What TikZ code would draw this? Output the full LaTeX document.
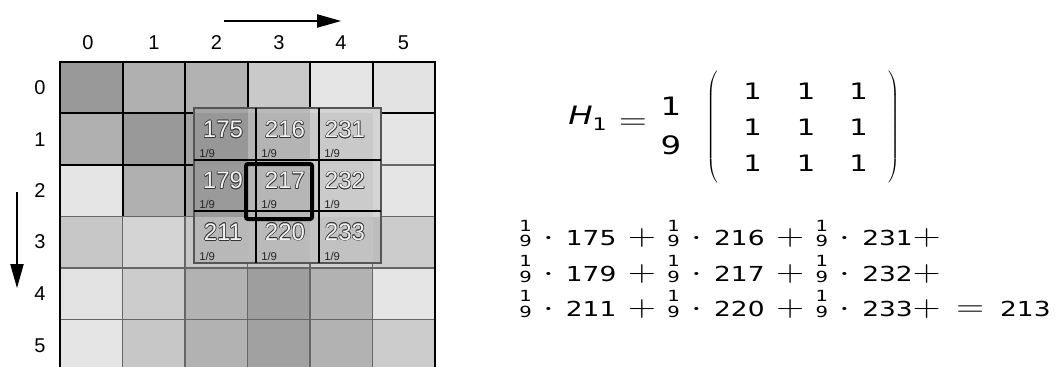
\RequirePackage{fix-cm}
\documentclass[tikz,border=0pt]{standalone}
\usepackage[no-math]{fontspec}
\usepackage{graphicx}
\usetikzlibrary{arrows.meta}
\newfontfamily\arialf{Liberation Sans}
\newfontfamily\dvfam{DejaVu Sans}
\definecolor{olc}{HTML}{333333}
\definecolor{olf}{HTML}{F2F2F2}
\definecolor{gline}{HTML}{666666}
\definecolor{wline}{HTML}{555555}
\newcommand\olt[1]{\leavevmode
  \rlap{\color{olc}\kern.5pt#1}\rlap{\color{olc}\kern-.5pt#1}%
  \rlap{\color{olc}\raisebox{.5pt}{#1}}\rlap{\color{olc}\raisebox{-.5pt}{#1}}%
  \rlap{\color{olc}\kern.35pt\raisebox{.35pt}{#1}}\rlap{\color{olc}\kern-.35pt\raisebox{-.35pt}{#1}}%
  \rlap{\color{olc}\kern.35pt\raisebox{-.35pt}{#1}}\rlap{\color{olc}\kern-.35pt\raisebox{.35pt}{#1}}%
  {\color{olf}#1}}
% digits and small stacked fraction of the sums
\newcommand\dn[1]{\mbox{\dvfam\fontsize{15.5}{18}\selectfont #1}}
\newcommand\nf{\mbox{\dvfam\fontsize{11.5}{13}\selectfont\rlap{\raisebox{10.7pt}{1}}\raisebox{-1.1pt}{9}}}
\newcommand\sumline[1]{\scalebox{1.28}[1]{$\medmuskip=5.5mu\thickmuskip=7.5mu #1$}}
\newcommand\gridcells{%
  \foreach \c/\r/\g in {0/0/40,1/0/31,2/0/30,3/0/21,4/0/10,5/0/11,
                        0/1/31,1/1/40,2/1/36,3/1/24,4/1/15,5/1/10,
                        0/2/10,1/2/31,2/2/35,3/2/23,4/2/14,5/2/10,
                        0/3/22,1/3/17,2/3/22,3/3/21,4/3/18,5/3/20,
                        0/4/11,1/4/20,2/4/30,3/4/38,4/4/30,5/4/10,
                        0/5/10,1/5/22,2/5/30,3/5/37,4/5/30,5/5/20}
    \fill[black!\g!white] ({60+62.5*\c},{62+51.5*\r}) rectangle ++(62.5,51.5);}
\tikzset{
  axlab/.style={font=\arialf\fontsize{15}{18}\selectfont},
  blk/.style={black,line width=1.5pt},
  gry/.style={gline,line width=1.1pt},
  wnum/.style={font=\arialf\fontsize{18}{20}\selectfont},
  wfrac/.style={font=\arialf\fontsize{8.5}{10}\selectfont,text=black!85,anchor=base west,inner sep=0pt},
  smth/.style={font=\fontsize{22.5}{27}\selectfont,anchor=base west,inner sep=0pt},
  bigdig/.style={font=\dvfam\fontsize{19}{22}\selectfont,inner sep=0pt},
  one/.style={font=\dvfam\fontsize{17}{20}\selectfont,inner sep=0pt},
  paren/.style={font=\fontsize{15}{18}\selectfont,inner sep=0pt},
  arr/.style={-{Triangle[length=18pt,width=10pt]},line width=0.8pt}
}
\begin{document}
\begin{tikzpicture}[x=0.75pt,y=-0.75pt]
\useasboundingbox (0,0) rectangle (1062,367);
\begin{scope}
\clip (0,0) rectangle (1062,367);
\gridcells
% grid lines
\draw[blk] (122.5,62) -- (122.5,216.5) (185,62) -- (185,216.5)
  (247.5,62) -- (247.5,165) (310,62) -- (310,165) (372.5,62) -- (372.5,165)
  (60,113.5) -- (435,113.5) (60,165) -- (247.5,165);
\draw[gry] (122.5,216.5) -- (122.5,371) (185,216.5) -- (185,371)
  (247.5,165) -- (247.5,371) (310,165) -- (310,371) (372.5,165) -- (372.5,371)
  (247.5,165) -- (435,165) (60,216.5) -- (435,216.5) (60,268) -- (435,268) (60,319.5) -- (435,319.5);
\draw[black,line width=2.2pt] (60,62) rectangle (435,371);
% window
\begin{scope}
\clip (194,108) rectangle (381,263);
\gridcells
\fill[black,fill opacity=0.07] (194,108) rectangle (381,263);
\end{scope}
\draw[wline,line width=1.1pt] (194,108) rectangle (381,263);
\draw[black,line width=1.1pt] (256,108) -- (256,263) (319,108) -- (319,263)
  (194,160) -- (381,160) (194,211) -- (381,211);
\draw[black,line width=3pt,rounded corners=1.5pt] (246,164) rectangle (312,219);
\end{scope}
% window numbers
\foreach \v/\x/\y in {175/223/129.5,216/285/129.5,231/345/129.5,
                     179/223/180.5,217/285/180.5,232/345/180.5,
                     211/223/232,220/285/232,233/345/232}
  \node[wnum] (n\v) at (\x,\y) {\olt{\v}};
\foreach \i/\x/\y in {a/199/157,b/261/157,c/324/157,
                     d/199/208,e/261/208,f/324/208,
                     g/199/260,h/261/260,k/324/260}
  \node[wfrac] (f\i) at (\x,\y) {1/9};
% axis labels
\foreach \i/\x in {0/88,1/154,2/216.5,3/279,4/341,5/403.5}
  \node[axlab] (c\i) at (\x,43) {\i};
\foreach \i/\y in {0/88,1/139.5,2/190.5,3/242,4/294,5/345.5}
  \node[axlab] (r\i) at (40,\y) {\i};
% arrows
\coordinate (ta) at (224,21); \coordinate (tb) at (341,21);
\coordinate (la) at (17,192); \coordinate (lb) at (17,288);
\draw[arr] (ta) -- (tb);
\draw[arr] (la) -- (lb);
% H_1 = 1/9 ( ... )
\node[anchor=base west,inner sep=0pt] (Hn) at (568,125)
  {\scalebox{1.28}[1]{\dvfam\fontsize{19}{22}\selectfont{\itshape H}\raisebox{-4pt}{\fontsize{13}{15}\selectfont 1}}};
\node[anchor=base,inner sep=0pt,font=\fontsize{22.5}{27}\selectfont] (eq) at (633,130) {\scalebox{1.28}[1]{$=$}};
\node[bigdig] (fn) at (671,106) {\scalebox{1.28}[1]{1}};
\node[bigdig] (fd) at (671,145) {\scalebox{1.28}[1]{9}};
\node[paren] (pl) at (713,127) {$\left(\vcenter{\hbox{\rule{0pt}{88pt}}}\right.$};
\node[paren] (pr) at (894,127) {$\left.\vcenter{\hbox{\rule{0pt}{88pt}}}\right)$};
\foreach \x [count=\i] in {752.5,806,858.5}
  \foreach \y [count=\j] in {91.5,127,163.5}
    \node[one] (m\i\j) at (\x,\y) {\scalebox{1.28}[1]{1}};
% sums
\node[smth] (S1) at (519,245.5) {\sumline{\nf\cdot\dn{175}+\nf\cdot\dn{216}+\nf\cdot\dn{231}+}};
\node[smth] (S2) at (519,281) {\sumline{\nf\cdot\dn{179}+\nf\cdot\dn{217}+\nf\cdot\dn{232}+}};
\node[smth] (S3) at (519,316) {\sumline{\nf\cdot\dn{211}+\nf\cdot\dn{220}+\nf\cdot\dn{233}+=\dn{213}}};
\end{tikzpicture}
\end{document}
